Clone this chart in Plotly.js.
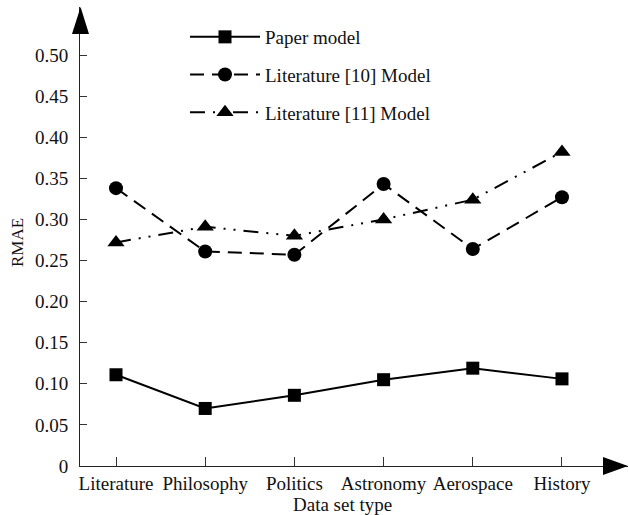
<!DOCTYPE html>
<html><head><meta charset="utf-8">
<script src="https://cdn.plot.ly/plotly-3.0.1.min.js"></script>
<style>html,body{margin:0;padding:0;background:#fff}</style>
</head><body>
<div id="chart" style="width:629px;height:515px"></div>
<script>
const categories = ['Literature', 'Philosophy', 'Politics', 'Astronomy', 'Aerospace', 'History'];
const paperModel = [0.111, 0.070, 0.086, 0.105, 0.119, 0.106];
const lit10Model = [0.338, 0.261, 0.257, 0.343, 0.264, 0.327];
const lit11Model = [0.272, 0.291, 0.280, 0.300, 0.324, 0.382];
const seriesNames = ['Paper model', 'Literature [10] Model', 'Literature [11] Model'];
const yTickVals = [0, 0.05, 0.10, 0.15, 0.20, 0.25, 0.30, 0.35, 0.40, 0.45, 0.50];
const yTickText = ['0', '0.05', '0.10', '0.15', '0.20', '0.25', '0.30', '0.35', '0.40', '0.45', '0.50'];
const xTitle = 'Data set type';
const yTitle = 'RMAE';

const FONT = 'Liberation Serif';
const W = 629, H = 515, L = 80, R = 1, T = 7, B = 49;
const PW = W - L - R, PH = H - T - B;
const px = x => (x - L) / PW;
const py = y => (H - B - y) / PH;

const traces = [
  {x: categories, y: paperModel, name: seriesNames[0], type: 'scatter', mode: 'lines+markers',
   legendgroup: 'a',
   line: {color: '#000', width: 2, dash: 'solid'},
   marker: {symbol: 'square', size: 13, color: '#000'}},
  {x: categories, y: lit10Model, name: seriesNames[1], type: 'scatter', mode: 'lines+markers',
   legendgroup: 'b',
   line: {color: '#000', width: 2, dash: '14px,8px'},
   marker: {symbol: 'circle', size: 14, color: '#000'}},
  {x: categories, y: lit11Model, name: seriesNames[2], type: 'scatter', mode: 'lines+markers',
   legendgroup: 'c',
   line: {color: '#000', width: 2, dash: '15px,8px,2px,8px,2px,8px'},
   marker: {symbol: 'triangle-up', size: 15, color: '#000'}}
];

const layout = {
  width: W, height: H,
  margin: {l: L, r: R, t: T, b: B, pad: 0},
  paper_bgcolor: '#fff', plot_bgcolor: '#fff',
  font: {family: FONT, size: 19, color: '#111'},
  showlegend: true,
  legend: {
    x: px(185), y: py(18), xanchor: 'left', yanchor: 'top',
    bgcolor: 'rgba(0,0,0,0)', borderwidth: 0,
    font: {family: FONT, size: 19, color: '#111'},
    traceorder: 'grouped', tracegroupgap: 10, itemwidth: 70
  },
  xaxis: {
    type: 'category', range: [-0.4036, 5.74],
    showline: true, linecolor: '#222', linewidth: 1,
    ticks: 'inside', ticklen: 9, tickcolor: '#333', tickwidth: 1,
    showgrid: false, zeroline: false, fixedrange: true,
    tickfont: {family: FONT, size: 19, color: '#111'}
  },
  yaxis: {
    range: [0, 0.5584],
    showline: true, linecolor: '#222', linewidth: 1,
    ticks: 'inside', ticklen: 7, tickcolor: '#333', tickwidth: 1,
    tickvals: yTickVals, ticktext: yTickText,
    ticklabelstandoff: 7,
    showgrid: false, zeroline: false, fixedrange: true,
    tickfont: {family: FONT, size: 19, color: '#111'}
  },
  shapes: [
    {type: 'path', xref: 'paper', yref: 'paper', fillcolor: '#000', line: {width: 0},
     path: `M${px(72)},${py(34)} L${px(80.6)},${py(7)} L${px(89)},${py(34)} Z`},
    {type: 'path', xref: 'paper', yref: 'paper', fillcolor: '#000', line: {width: 0},
     path: `M${px(603)},${py(457)} L${px(628)},${py(466)} L${px(603)},${py(475)} Z`}
  ],
  annotations: [
    {text: xTitle, xref: 'paper', yref: 'paper', x: px(342), y: py(504),
     xanchor: 'center', yanchor: 'middle', showarrow: false,
     font: {family: FONT, size: 19, color: '#111'}},
    {text: yTitle, xref: 'paper', yref: 'paper', x: px(17), y: py(243),
     xanchor: 'center', yanchor: 'middle', showarrow: false, textangle: -90,
     font: {family: FONT, size: 17, color: '#111'}}
  ]
};

Plotly.newPlot('chart', traces, layout, {displayModeBar: false, staticPlot: true});
</script>
</body></html>
